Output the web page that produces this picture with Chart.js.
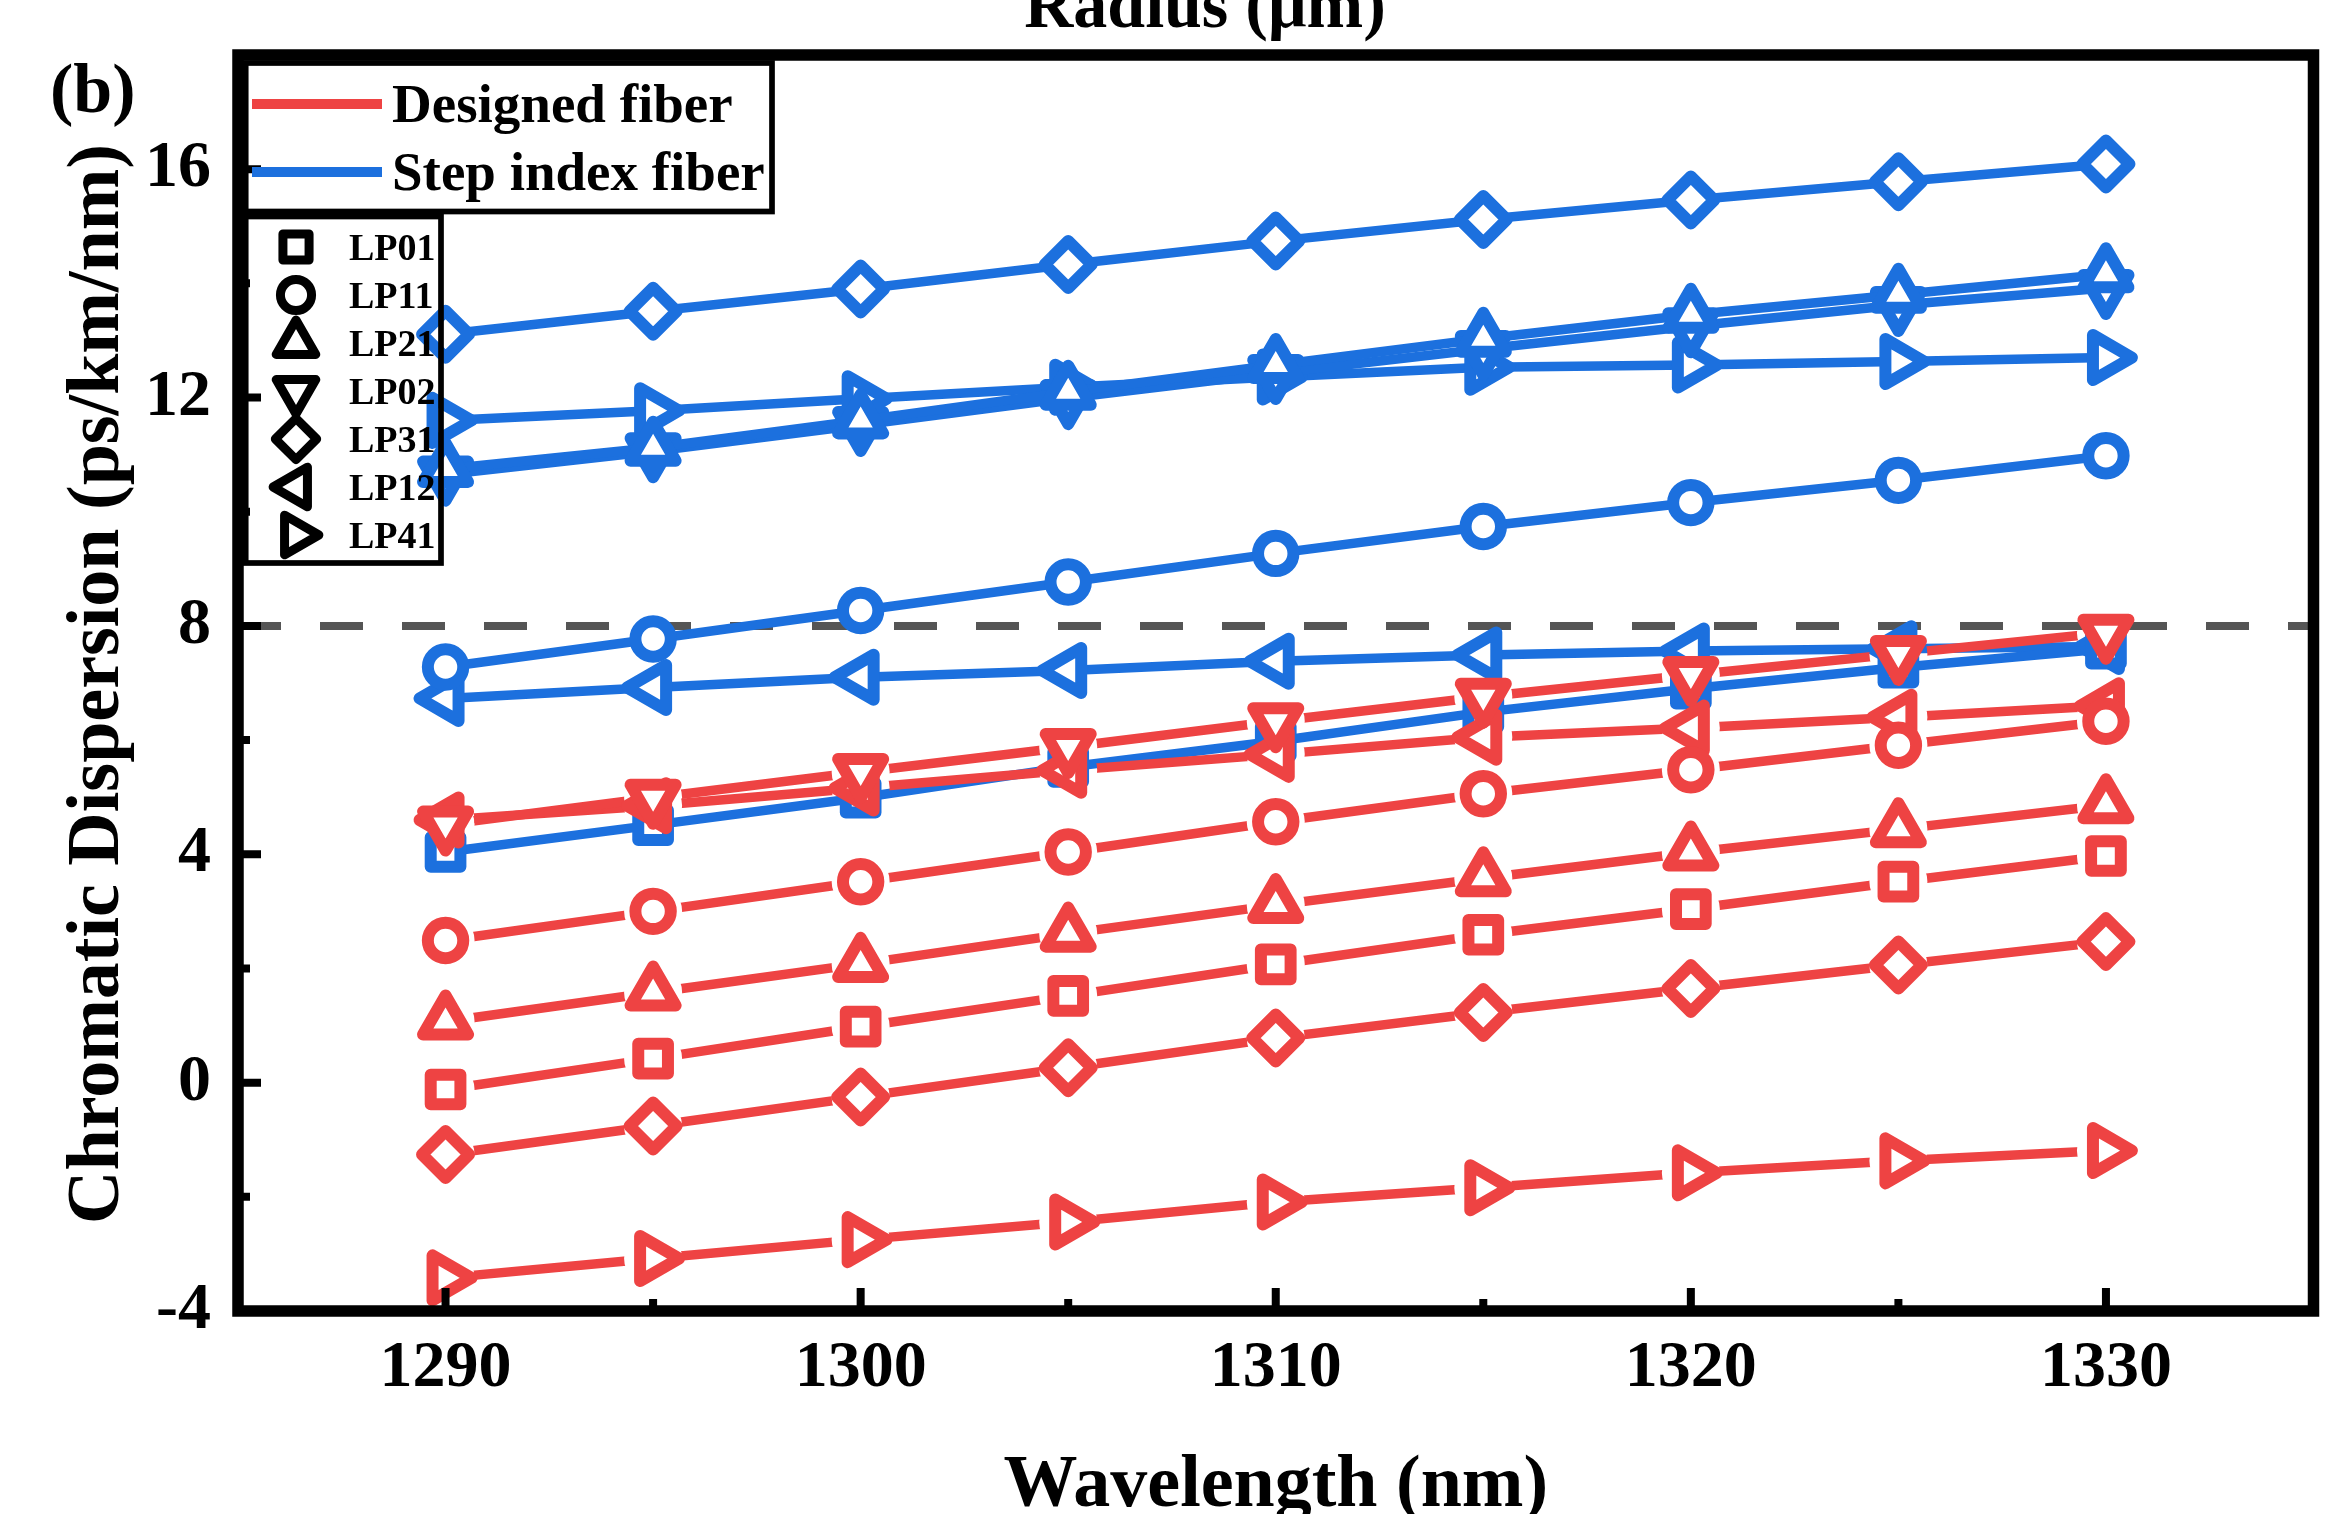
<!DOCTYPE html>
<html lang="en">
<head>
<meta charset="UTF-8">
<title>Chromatic Dispersion vs Wavelength</title>
<script src="https://cdn.jsdelivr.net/npm/chart.js@4.4.1/dist/chart.umd.min.js"></script>
<style>
  html, body { margin: 0; padding: 0; background: #fff; }
</style>
</head>
<body>
<canvas id="chart" width="2343" height="1514"></canvas>
<script>
const wavelengths = [1290, 1295, 1300, 1305, 1310, 1315, 1320, 1325, 1330];
const modeNames = ['LP01', 'LP11', 'LP21', 'LP02', 'LP31', 'LP12', 'LP41'];
const fiberNames = ['Designed fiber', 'Step index fiber'];

// designed fiber (red)
const designedLP01 = [-0.12, 0.42, 0.98, 1.52, 2.07, 2.59, 3.04, 3.52, 3.97];
const designedLP11 = [2.49, 3.00, 3.52, 4.04, 4.57, 5.06, 5.48, 5.91, 6.33];
const designedLP21 = [1.07, 1.58, 2.08, 2.61, 3.11, 3.58, 4.03, 4.44, 4.86];
const designedLP02 = [4.52, 4.99, 5.44, 5.88, 6.33, 6.76, 7.14, 7.51, 7.88];
const designedLP31 = [-1.26, -0.76, -0.25, 0.26, 0.78, 1.23, 1.65, 2.06, 2.47];
const designedLP12 = [4.60, 4.85, 5.16, 5.47, 5.75, 6.05, 6.21, 6.40, 6.60];
const designedLP41 = [-3.42, -3.08, -2.75, -2.44, -2.09, -1.84, -1.58, -1.37, -1.19];

// step index fiber (blue)
const stepLP01 = [4.04, 4.51, 4.99, 5.53, 5.98, 6.49, 6.90, 7.27, 7.60];
const stepLP11 = [7.28, 7.77, 8.27, 8.77, 9.27, 9.74, 10.16, 10.55, 10.98];
const stepLP21 = [10.75, 11.12, 11.60, 12.10, 12.57, 13.03, 13.45, 13.80, 14.16];
const stepLP02 = [10.65, 11.06, 11.52, 11.99, 12.43, 12.85, 13.25, 13.62, 13.92];
const stepLP31 = [13.11, 13.51, 13.90, 14.33, 14.74, 15.12, 15.46, 15.78, 16.09];
const stepLP12 = [6.73, 6.92, 7.10, 7.22, 7.38, 7.49, 7.56, 7.60, 7.64];
const stepLP41 = [11.60, 11.77, 11.98, 12.18, 12.36, 12.53, 12.57, 12.63, 12.70];

const xMajorTicks = [1290, 1300, 1310, 1320, 1330];
const yMajorTicks = [-4, 0, 4, 8, 12, 16];
const cutoffX = [1285, 1335];
const cutoffY = [8, 8];

const designedSeries = [designedLP01, designedLP11, designedLP21, designedLP02, designedLP31, designedLP12, designedLP41];
const stepSeries = [stepLP01, stepLP11, stepLP21, stepLP02, stepLP31, stepLP12, stepLP41];

const RED = '#EE4343';
const BLUE = '#1C70DE';
const SERIF = "'Liberation Serif', 'Times New Roman', serif";

const markers = [
    { pointStyle: 'rect', radius: 21, rotation: 0 },
    { pointStyle: 'circle', radius: 17.7, rotation: 0 },
    { pointStyle: 'triangle', radius: 26, rotation: 0 },
    { pointStyle: 'triangle', radius: 26, rotation: 180 },
    { pointStyle: 'rectRot', radius: 23.5, rotation: 0 },
    { pointStyle: 'triangle', radius: 26, rotation: -90 },
    { pointStyle: 'triangle', radius: 26, rotation: 90 }
];

function toPoints(ys) {
    return wavelengths.map((x, i) => ({ x: x, y: ys[i] }));
}

const datasets = [];

// red markers on top, red lines (with gaps round the symbols) below them
designedSeries.forEach((ys, i) => {
    datasets.push({
        label: fiberNames[0] + ' ' + modeNames[i],
        data: toPoints(ys),
        showLine: false,
        order: 0,
        pointStyle: markers[i].pointStyle,
        pointRadius: markers[i].radius,
        pointRotation: markers[i].rotation,
        pointBorderWidth: 12,
        pointBorderColor: RED,
        pointBackgroundColor: '#fff'
    });
    datasets.push({
        label: fiberNames[0] + ' ' + modeNames[i] + ' line',
        data: toPoints(ys),
        order: 1,
        borderColor: RED,
        borderWidth: 9.5,
        pointRadius: 0,
        gapRadius: 29
    });
});

stepSeries.forEach((ys, i) => {
    datasets.push({
        label: fiberNames[1] + ' ' + modeNames[i],
        data: toPoints(ys),
        order: 2,
        borderColor: BLUE,
        borderWidth: 9.5,
        borderJoinStyle: 'round',
        pointStyle: markers[i].pointStyle,
        pointRadius: markers[i].radius,
        pointRotation: markers[i].rotation,
        pointBorderWidth: 12,
        pointBorderColor: BLUE,
        pointBackgroundColor: '#fff'
    });
});

datasets.push({
    label: 'cutoff',
    data: cutoffX.map((x, i) => ({ x: x, y: cutoffY[i] })),
    order: 3,
    borderColor: '#555555',
    borderWidth: 8,
    borderDash: [43, 39],
    pointRadius: 0
});

function drawSymbol(ctx, m, x, y, color, scale, width) {
    ctx.save();
    ctx.strokeStyle = color;
    ctx.fillStyle = '#fff';
    ctx.lineWidth = width;
    ctx.lineJoin = 'round';
    Chart.helpers.drawPoint(ctx, {
        pointStyle: m.pointStyle,
        radius: m.radius * scale,
        rotation: m.rotation,
        borderWidth: width
    }, x, y);
    ctx.restore();
}

const decorations = {
    id: 'decorations',
    beforeDatasetsDraw(chart) {
        chart.ctx.lineJoin = 'round';
    },
    beforeDatasetDraw(chart, args) {
        const ds = chart.data.datasets[args.index];
        if (!ds.gapRadius) return;
        const ctx = chart.ctx;
        ctx.save();
        ctx.beginPath();
        ctx.rect(0, 0, chart.width, chart.height);
        args.meta.data.forEach(p => {
            ctx.moveTo(p.x + ds.gapRadius, p.y);
            ctx.arc(p.x, p.y, ds.gapRadius, 0, Math.PI * 2);
        });
        ctx.clip('evenodd');
    },
    afterDatasetDraw(chart, args) {
        if (chart.data.datasets[args.index].gapRadius) chart.ctx.restore();
    },
    afterDraw(chart) {
        const ctx = chart.ctx;
        const a = chart.chartArea;
        const xs = chart.scales.x, ys = chart.scales.y;
        ctx.save();

        // frame
        ctx.strokeStyle = '#000';
        ctx.lineWidth = 11.5;
        ctx.lineJoin = 'miter';
        ctx.strokeRect(a.left, a.top, a.right - a.left, a.bottom - a.top);

        // inward ticks
        ctx.lineWidth = 8;
        ctx.beginPath();
        xs.ticks.forEach(t => {
            const px = xs.getPixelForValue(t.value);
            const len = xMajorTicks.includes(t.value) ? 23 : 12;
            ctx.moveTo(px, a.bottom);
            ctx.lineTo(px, a.bottom - len);
        });
        ys.ticks.forEach(t => {
            const py = ys.getPixelForValue(t.value);
            const len = yMajorTicks.includes(t.value) ? 23 : 12;
            ctx.moveTo(a.left, py);
            ctx.lineTo(a.left + len, py);
        });
        ctx.stroke();

        // titles
        ctx.fillStyle = '#000';
        ctx.textAlign = 'center';
        ctx.textBaseline = 'alphabetic';
        ctx.font = 'bold 74px ' + SERIF;
        ctx.fillText('Wavelength (nm)', (a.left + a.right) / 2, 1506);
        ctx.save();
        ctx.translate(118, 684);
        ctx.rotate(-Math.PI / 2);
        ctx.fillText('Chromatic Dispersion (ps/km/nm)', 0, 0);
        ctx.restore();
        ctx.font = 'bold 68px ' + SERIF;
        ctx.fillText('Radius (\u03bcm)', 1205, 27);
        ctx.textAlign = 'left';
        ctx.font = 'bold 70px ' + SERIF;
        ctx.fillText('(b)', 50, 112);

        // legend 1: fibers
        ctx.lineWidth = 5.7;
        ctx.strokeRect(245.7, 63, 526.3, 148.5);
        const fiberColors = [RED, BLUE];
        const rowsY = [104, 172];
        ctx.font = 'bold 55px ' + SERIF;
        fiberNames.forEach((name, i) => {
            ctx.strokeStyle = fiberColors[i];
            ctx.lineWidth = 10;
            ctx.beginPath();
            ctx.moveTo(252, rowsY[i]);
            ctx.lineTo(382, rowsY[i]);
            ctx.stroke();
            ctx.fillText(name, 392, rowsY[i] + 18);
        });

        // legend 2: modes
        ctx.strokeStyle = '#000';
        ctx.lineWidth = 5.7;
        ctx.strokeRect(245.7, 216.5, 195.3, 346.5);
        ctx.font = 'bold 38px ' + SERIF;
        modeNames.forEach((name, i) => {
            const y = 247 + i * 48;
            drawSymbol(ctx, markers[i], 296, y, '#000', 0.88, 9);
            ctx.fillStyle = '#000';
            ctx.fillText(name, 349, y + 13);
        });
        ctx.restore();
    }
};

const tickFont = { family: SERIF, weight: 'bold', size: 66 };

new Chart(document.getElementById('chart').getContext('2d'), {
    type: 'line',
    data: { datasets: datasets },
    options: {
        responsive: false,
        animation: false,
        events: [],
        layout: { autoPadding: false, padding: { top: 55, right: 29.5, left: 0, bottom: 0 } },
        plugins: { legend: { display: false }, tooltip: { enabled: false } },
        scales: {
            x: {
                type: 'linear',
                min: 1285,
                max: 1335,
                grid: { display: false, drawTicks: false },
                border: { display: false },
                ticks: {
                    stepSize: 5,
                    autoSkip: false,
                    maxRotation: 0,
                    padding: 18,
                    color: '#000',
                    font: tickFont,
                    callback: v => xMajorTicks.includes(v) ? String(v) : ''
                },
                afterFit: s => { s.height = 203; s.paddingLeft = 0; s.paddingRight = 0; }
            },
            y: {
                type: 'linear',
                min: -4,
                max: 18,
                grid: { display: false, drawTicks: false },
                border: { display: false },
                ticks: {
                    stepSize: 2,
                    autoSkip: false,
                    padding: 27,
                    color: '#000',
                    font: tickFont,
                    callback: v => yMajorTicks.includes(v) ? String(v) : ''
                },
                afterFit: s => { s.width = 238; s.paddingTop = 0; s.paddingBottom = 0; }
            }
        }
    },
    plugins: [decorations]
});
</script>
</body>
</html>
